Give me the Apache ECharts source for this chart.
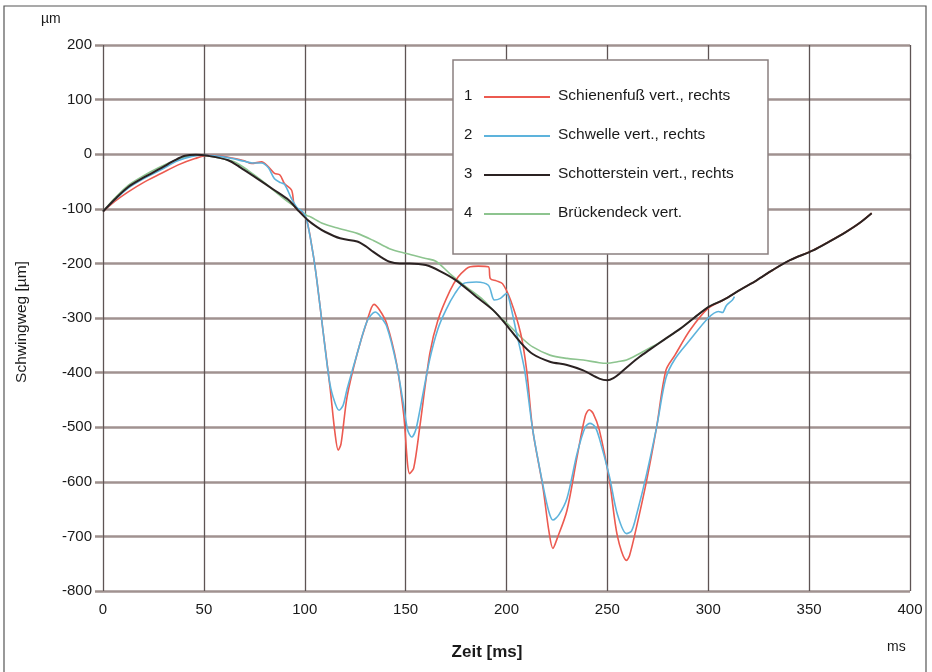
<!DOCTYPE html>
<html>
<head>
<meta charset="utf-8">
<script src="https://cdn.jsdelivr.net/npm/echarts@6/dist/echarts.min.js"></script>
<style>
  html, body { margin: 0; padding: 0; background: #fff; }
  #chart { width: 932px; height: 672px; }
</style>
</head>
<body>
<div id="chart"></div>
<script>
const tRed = [0, 6, 12.5, 20, 29, 37, 45.6, 52, 58, 64, 70, 73.7, 78.6, 82, 85, 87.7, 90, 93.5, 95, 98.4, 101, 104, 106, 109, 112.5, 115, 116.6, 118, 121, 126, 131, 134.3, 137, 140.6, 145.5, 149, 152, 154, 157, 162, 166, 172, 176, 180, 182, 186, 191, 192, 195, 198, 202, 207, 210, 213, 218, 221, 223, 225, 230, 235, 239, 241, 243, 246, 251, 255, 259.5, 261, 264.5, 269.5, 274.4, 279, 283.5, 291, 300, 307.5, 316, 324, 332, 340.5, 352, 360, 368, 375, 381]
const yRed = [-105, -86, -69, -52, -35, -20, -8, -2, -3, -7, -12, -17, -14, -23, -35, -38, -54, -66, -96, -106, -121, -180, -231, -322, -426, -511, -542, -530, -444, -365, -304, -275, -285, -310, -383, -475, -585, -575, -500, -365, -304, -250, -225, -210, -206, -205, -206, -228, -232, -237, -267, -328, -396, -505, -609, -690, -722, -705, -652, -554, -480, -468, -475, -505, -597, -700, -744, -735, -682, -597, -500, -396, -368, -322, -282, -267, -248, -231, -212, -194, -176, -160, -143, -126, -108]

const tBlue = [0, 6, 12.5, 20, 29, 37, 44, 50, 58, 64, 70, 74, 78.6, 82, 85, 88, 90, 93.5, 96, 99, 101, 104, 106, 109, 112, 114, 117, 119, 121, 126, 131, 135, 137, 140.6, 145.5, 149, 151, 153, 155, 157, 162, 166, 170, 174.5, 178.5, 185, 191, 194, 197, 200, 202, 205, 209, 213, 218, 221, 223, 226, 230, 235, 239, 241.4, 244, 246, 251, 255, 259.5, 262, 264.5, 269.5, 274.4, 279, 283.5, 291, 300, 305, 307, 309, 312, 313]
const yBlue = [-105, -83, -62, -45, -28, -12, -4, -2, -4, -8, -13, -16, -16, -25, -45, -52, -55, -82, -97, -106, -121, -180, -231, -322, -410, -444, -469, -460, -430, -365, -305, -289, -295, -315, -385, -460, -505, -518, -505, -470, -375, -320, -285, -255, -237, -234, -240, -267, -264, -255, -277, -328, -396, -505, -605, -655, -670, -660, -630, -548, -500, -493, -500, -520, -590, -660, -695, -690, -660, -585, -500, -410, -375, -340, -300, -288, -290, -277, -267, -261]

const tBlack = [0, 6, 12.5, 20, 29, 35.7, 40.6, 46, 52, 62, 68, 75, 85, 92, 96.7, 101.6, 106, 110, 117.5, 126, 130, 134, 138, 142, 147, 152, 160, 167, 175, 185, 193.5, 200, 207, 213, 221.5, 230, 238, 246, 250, 253, 256, 261, 266, 271, 278, 286, 300, 307.5, 316, 324, 332, 340.5, 352, 360, 368, 375, 381]
const yBlack = [-105, -82, -60, -43, -25, -11, -3, -1, -3, -11, -24, -41, -66, -84, -103, -121, -133, -142, -154, -160, -168, -179, -189, -197, -200, -200, -203, -214, -231, -261, -286, -313, -345, -366, -380, -386, -396, -411, -414, -410, -402, -386, -371, -358, -340, -320, -280, -267, -248, -231, -212, -194, -176, -160, -143, -126, -108]

const tGreen = [0, 6, 12.5, 20.8, 28, 35.7, 42, 48, 55, 65, 72, 78.6, 88.5, 95, 101, 103, 109, 117, 126, 134, 142, 150.5, 160, 165, 172, 180, 188.5, 195, 202, 208, 213, 221.5, 230, 238, 246, 250, 255, 259.5, 266, 271, 278, 286, 300, 307.5, 316, 324, 332, 340.5, 352, 360, 368, 375, 381]
const yGreen = [-105, -80, -57, -38, -24, -11, -4, -2, -5, -14, -30, -48, -78, -96, -112, -115, -127, -136, -145, -158, -173, -182, -191, -196, -219, -243, -267, -292, -316, -338, -353, -368, -374, -377, -382, -383, -380, -377, -365, -355, -340, -320, -280, -267, -248, -231, -212, -194, -176, -160, -143, -126, -108]

const seriesNames = ['Schienenfuß vert., rechts', 'Schwelle vert., rechts', 'Schotterstein vert., rechts', 'Brückendeck vert.']
const seriesColors = ['#ec5a50', '#5db3dc', '#2b2222', '#8dc48f']

const chart = echarts.init(document.getElementById('chart'))
const font = 'Liberation Sans, Arial, sans-serif'

const pairs = (t, y) => t.map((v, i) => [v, y[i]])

// Legende als Grafik (Nummer, Linie, Text)
const legendItems = []
seriesNames.forEach((name, i) => {
  const y = 97 + i * 39
  legendItems.push({ type: 'text', left: 464, top: y - 9, style: { text: String(i + 1), font: '15px ' + font, fill: '#1a1a1a' } })
  legendItems.push({ type: 'line', shape: { x1: 484, y1: y, x2: 550, y2: y }, style: { stroke: seriesColors[i], lineWidth: 2 } })
  legendItems.push({ type: 'text', left: 558, top: y - 9, style: { text: name, font: '15.5px ' + font, fill: '#1a1a1a' } })
})

const option = {
  animation: false,
  backgroundColor: '#fff',
  grid: { left: 103, right: 22, top: 45, bottom: 81 },
  xAxis: {
    type: 'value',
    min: 0,
    max: 400,
    interval: 50,
    axisLine: { show: false },
    axisTick: { show: true, length: 5, lineStyle: { color: '#5e5454', width: 1.2 } },
    axisLabel: { margin: 11, fontSize: 15, color: '#1a1a1a', fontFamily: font },
    splitLine: { show: true, lineStyle: { color: '#5e5454', width: 1.3 } }
  },
  yAxis: {
    type: 'value',
    min: -800,
    max: 200,
    interval: 100,
    axisLine: { show: false },
    axisTick: { show: true, length: 8, lineStyle: { color: '#9c8e8b', width: 2.5 } },
    axisLabel: { margin: 11, fontSize: 15, color: '#1a1a1a', fontFamily: font },
    splitLine: { show: true, lineStyle: { color: '#a09290', width: 2.5 } }
  },
  series: [
    { name: seriesNames[0], type: 'line', data: pairs(tRed, yRed), smooth: 0.3, showSymbol: false, lineStyle: { color: seriesColors[0], width: 1.6 }, z: 3 },
    { name: seriesNames[1], type: 'line', data: pairs(tBlue, yBlue), smooth: 0.3, showSymbol: false, lineStyle: { color: seriesColors[1], width: 1.6 }, z: 4 },
    { name: seriesNames[3], type: 'line', data: pairs(tGreen, yGreen), smooth: 0.3, showSymbol: false, lineStyle: { color: seriesColors[3], width: 1.6 }, z: 2 },
    { name: seriesNames[2], type: 'line', data: pairs(tBlack, yBlack), smooth: 0.3, showSymbol: false, lineStyle: { color: seriesColors[2], width: 2 }, z: 5 }
  ],
  graphic: [
    // Rahmen um das Bild
    { type: 'rect', shape: { x: 4, y: 6, width: 922, height: 680 }, style: { fill: null, stroke: '#555', lineWidth: 1.2 }, z: 100 },
    // Legendenkasten
    { type: 'rect', shape: { x: 453, y: 60, width: 315, height: 194 }, style: { fill: '#fff', stroke: '#8a8080', lineWidth: 1.5 }, z: 90 },
    { type: 'group', z: 95, children: legendItems.map(e => Object.assign(e, { z: 95 })) },
    { type: 'text', left: 41, top: 12, style: { text: 'µm', font: '14px ' + font, fill: '#1a1a1a' } },
    { type: 'text', left: 887, top: 640, style: { text: 'ms', font: '14px ' + font, fill: '#1a1a1a' } },
    { type: 'text', x: 487, y: 652, style: { text: 'Zeit [ms]', font: 'bold 17px ' + font, fill: '#1a1a1a', align: 'center', verticalAlign: 'middle' } },
    { type: 'text', x: 22, y: 322, rotation: Math.PI / 2, style: { text: 'Schwingweg [µm]', font: '15.5px ' + font, fill: '#1a1a1a', align: 'center', verticalAlign: 'middle' } }
  ]
}

chart.setOption(option)
window.onresize = function () {
  chart.resize()
}
</script>
</body>
</html>
